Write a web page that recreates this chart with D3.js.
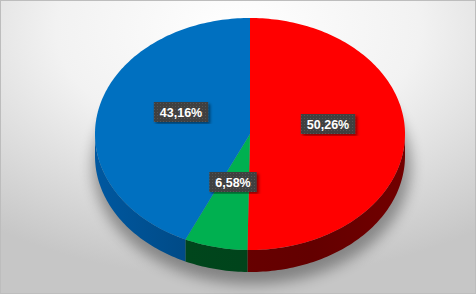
<!DOCTYPE html>
<html>
<head>
<meta charset="utf-8">
<script src="https://cdn.jsdelivr.net/npm/d3@7"></script>
<style>
  html, body { margin: 0; padding: 0; background: #fff; }
  svg { display: block; }
</style>
</head>
<body>
<svg width="476" height="294"></svg>
<script>
// slice data, clockwise from 12 o'clock
const categories = ["A", "B", "C"];
const values = [50.26, 6.58, 43.16];
const labels = ["50,26%", "6,58%", "43,16%"];
const colors = ["#ff0000", "#00b050", "#0070c0"];
const sideColors = ["#6a0000", "#00461c", "#004a86"];

const W = 476, H = 294;
const cx = 250, cy = 134, rx = 155, ry = 116, depth = 22;

let svg = d3.select("svg");
let defs = svg.append("defs");

// background
let bg = defs.append("radialGradient").attr("id", "bg")
    .attr("cx", "50%").attr("cy", "10%").attr("r", "85%");
bg.append("stop").attr("offset", "0%").attr("stop-color", "#ffffff");
bg.append("stop").attr("offset", "45%").attr("stop-color", "#f2f2f2");
bg.append("stop").attr("offset", "100%").attr("stop-color", "#c6c6c6");
svg.append("rect").attr("x", 0.5).attr("y", 0.5).attr("width", W - 1).attr("height", H - 1)
    .attr("fill", "url(#bg)").attr("stroke", "#bdbdbd");

// blur for shadows
defs.append("filter").attr("id", "blur").attr("x", "-20%").attr("y", "-20%").attr("width", "140%").attr("height", "140%")
    .append("feGaussianBlur").attr("stdDeviation", 7);
let lblShadow = defs.append("filter").attr("id", "lblShadow");
lblShadow.append("feDropShadow").attr("dx", 2).attr("dy", 2).attr("stdDeviation", 1.5)
    .attr("flood-color", "#000").attr("flood-opacity", 0.45);

// dotted texture for label boxes
let pat = defs.append("pattern").attr("id", "dots").attr("width", 3).attr("height", 3)
    .attr("patternUnits", "userSpaceOnUse");
pat.append("rect").attr("width", 3).attr("height", 3).attr("fill", "#404040");
pat.append("rect").attr("width", 1).attr("height", 1).attr("fill", "#555555");

// side gradients (darker toward the middle, lighter at the rim edges)
sideColors.forEach(function (c, i) {
    let g = defs.append("linearGradient").attr("id", "side" + i)
        .attr("gradientUnits", "userSpaceOnUse")
        .attr("x1", cx - rx).attr("x2", cx + rx).attr("y1", 0).attr("y2", 0);
    let base = d3.color(c);
    g.append("stop").attr("offset", "0%").attr("stop-color", base.brighter(0.5));
    g.append("stop").attr("offset", "30%").attr("stop-color", base);
    g.append("stop").attr("offset", "70%").attr("stop-color", base.darker(0.2));
    g.append("stop").attr("offset", "100%").attr("stop-color", base.brighter(0.2));
});

// angle -> ellipse point (0 = top, clockwise)
const xs = d3.scaleLinear().domain([-1, 1]).range([cx - rx, cx + rx]);
const ys = d3.scaleLinear().domain([-1, 1]).range([cy - ry, cy + ry]);
function pt(a, dy) {
    return [xs(Math.sin(a)), ys(-Math.cos(a)) + (dy || 0)];
}
function arcPoints(a0, a1, dy) {
    let n = Math.max(2, Math.ceil((a1 - a0) / 0.02));
    return d3.range(n + 1).map(k => pt(a0 + (a1 - a0) * k / n, dy));
}

let pie = d3.pie().sort(null).value(d => d)(values);

// soft shadow under the pie
svg.append("ellipse").attr("cx", cx + 2).attr("cy", cy + depth + 10).attr("rx", rx + 4).attr("ry", ry + 2)
    .attr("fill", "#000").attr("opacity", 0.35).attr("filter", "url(#blur)");

// side walls, only the front half (angles between PI/2 and 3PI/2)
let line = d3.line();
pie.forEach(function (d, i) {
    let a0 = Math.max(d.startAngle, Math.PI / 2);
    let a1 = Math.min(d.endAngle, Math.PI * 1.5);
    if (a1 <= a0) return;
    let top = arcPoints(a0, a1, 0);
    let bot = arcPoints(a0, a1, depth).reverse();
    svg.append("path").attr("d", line(top.concat(bot)) + "Z")
        .attr("fill", "url(#side" + i + ")");
});

// top faces
pie.forEach(function (d, i) {
    let pts = [[cx, cy]].concat(arcPoints(d.startAngle, d.endAngle, 0));
    svg.append("path").attr("d", line(pts) + "Z")
        .attr("fill", colors[i]);
});

// labels
const labelPos = [[328, 124], [233, 182], [181, 112]];
pie.forEach(function (d, i) {
    let g = svg.append("g").attr("transform", "translate(" + labelPos[i][0] + "," + labelPos[i][1] + ")");
    let t = g.append("text").text(labels[i])
        .attr("text-anchor", "middle").attr("dy", "0.36em")
        .attr("font-family", "Liberation Sans, Arial, sans-serif")
        .attr("font-weight", "bold").attr("font-size", 12.5)
        .attr("fill", "#ffffff");
    let w = t.node().getComputedTextLength() + 12;
    g.insert("rect", "text").attr("x", -w / 2).attr("y", -10).attr("width", w).attr("height", 20)
        .attr("fill", "url(#dots)").attr("filter", "url(#lblShadow)");
});
</script>
</body>
</html>
